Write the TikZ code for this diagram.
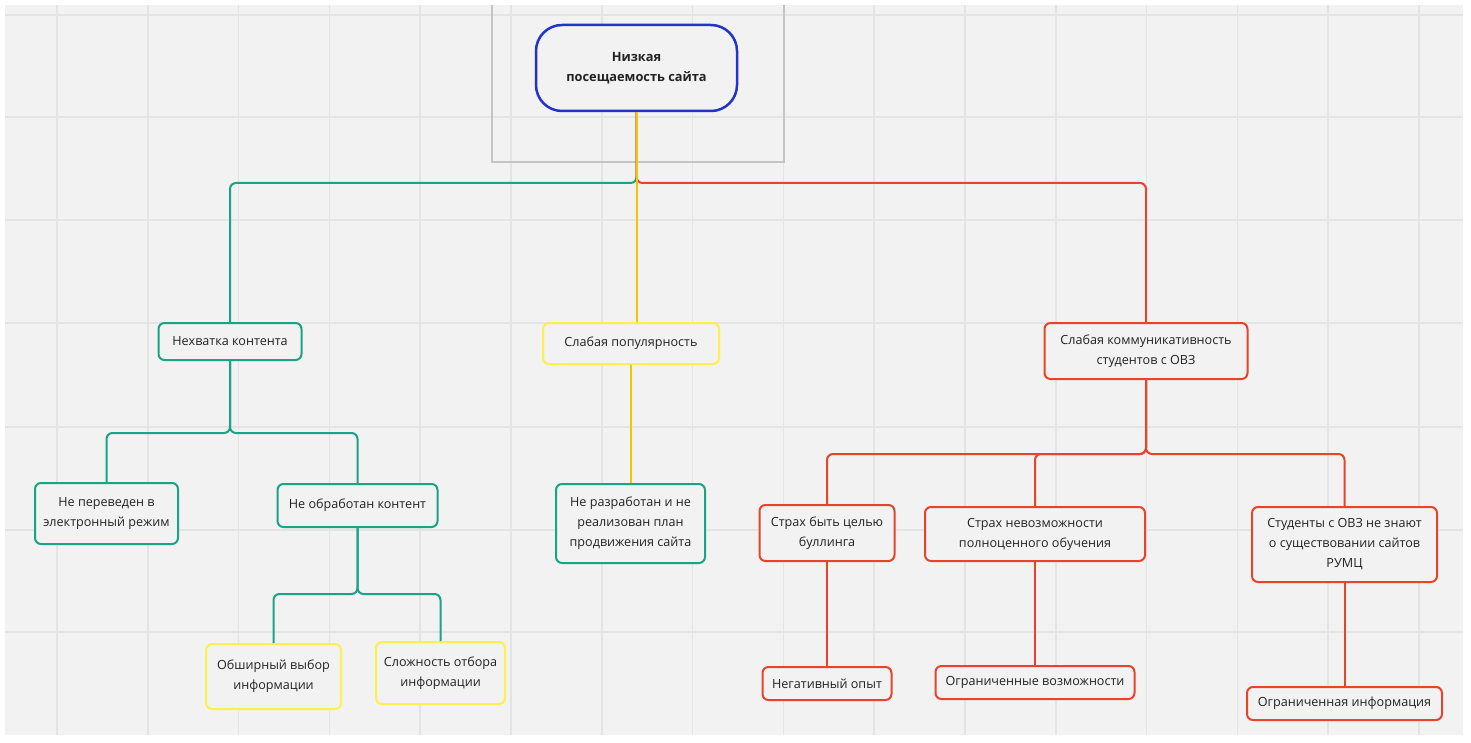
\documentclass[tikz,border=0pt]{standalone}
\usepackage{fontspec}
\setmainfont{Open Sans}
\definecolor{bggray}{HTML}{F2F2F2}
\definecolor{gridgray}{HTML}{E4E4E4}
\definecolor{framegray}{HTML}{C4C4C4}
\definecolor{teal}{HTML}{1AA385}
\definecolor{redc}{HTML}{E8432B}
\definecolor{ylw}{HTML}{FFEF50}
\definecolor{ylwline}{HTML}{F7C400}
\definecolor{bluec}{HTML}{2233CC}
\definecolor{txt}{HTML}{222222}
\tikzset{
  box/.style={draw, line width=2pt, rounded corners=6pt, fill=bggray, align=center,
    inner sep=0pt, text=txt, font=\fontsize{12.6}{20}\selectfont},
  gbox/.style={box, draw=teal},
  rbox/.style={box, draw=redc},
  ybox/.style={box, draw=ylw},
  rootbox/.style={draw=bluec, line width=2.5pt, rounded corners=26pt, fill=bggray, align=center,
    inner sep=0pt, text=txt, font=\fontsize{12.8}{20}\selectfont\bfseries},
  conn/.style={line width=2pt, rounded corners=6pt},
}
\begin{document}
\begin{tikzpicture}[x=1pt,y=-1pt]
\useasboundingbox (0,0) rectangle (1471,743);
\fill[white] (0,0) rectangle (1471,743);
\fill[bggray] (5,5) rectangle (1463,735);
% grid
\foreach \i in {0,...,15} {
  \draw[gridgray, line width=1.6pt] ({57+90.8*\i},5) -- ({57+90.8*\i},735);
}
\foreach \j in {15,117,220,323,427,530,632} {
  \draw[gridgray, line width=1.6pt] (5,\j) -- (1463,\j);
}
% frame
\draw[framegray, line width=1.2pt] (492,5) -- (492,162) -- (784,162) -- (784,5);

% nodes
\node[rootbox, minimum width=201pt, minimum height=86pt] (root) at (636.5,68) {Низкая\\посещаемость сайта};

\node[gbox, minimum width=143pt, minimum height=37pt] (n1) at (230,341.5) {Нехватка контента};
\node[gbox, minimum width=143pt, minimum height=61pt] (n11) at (106.5,513.5) {Не переведен в\\электронный режим};
\node[gbox, minimum width=160pt, minimum height=43pt] (n12) at (357.5,505.5) {Не обработан контент};
\node[ybox, minimum width=135pt, minimum height=65pt] (n121) at (273.5,676.5) {Обширный выбор\\информации};
\node[ybox, minimum width=129pt, minimum height=62pt] (n122) at (440.5,673) {Сложность отбора\\информации};

\node[ybox, minimum width=176pt, minimum height=41pt] (n2) at (631,343.5) {Слабая популярность};
\node[gbox, minimum width=149pt, minimum height=79pt] (n21) at (630.5,523.5) {Не разработан и не\\реализован план\\продвижения сайта};

\node[rbox, minimum width=203pt, minimum height=56pt] (n3) at (1146,351) {Слабая коммуникативность\\студентов с ОВЗ};
\node[rbox, minimum width=135pt, minimum height=56pt] (n31) at (827,533) {Страх быть целью\\буллинга};
\node[rbox, minimum width=220pt, minimum height=54pt] (n32) at (1035,534) {Страх невозможности\\полноценного обучения};
\node[rbox, minimum width=185pt, minimum height=75pt] (n33) at (1344.5,544.5) {Студенты с ОВЗ не знают\\о существовании сайтов\\РУМЦ};
\node[rbox, minimum width=129pt, minimum height=33pt] (n311) at (827,683.5) {Негативный опыт};
\node[rbox, minimum width=199pt, minimum height=33pt] (n321) at (1035,682.5) {Ограниченные возможности};
\node[rbox, minimum width=195pt, minimum height=33pt] (n331) at (1344.5,703.5) {Ограниченная информация};

% connectors
\draw[conn, teal] (root.south) -- (root.south |- 0,183) -- (n1.north |- 0,183) -- (n1.north);
\draw[conn, redc] (root.south) -- (root.south |- 0,183) -- (n3.north |- 0,183) -- (n3.north);
\draw[conn, ylwline] (root.south) -- (root.south |- n2.north);

\draw[conn, teal] (n1.south) -- (n1.south |- 0,433) -- (n11.north |- 0,433) -- (n11.north);
\draw[conn, teal] (n1.south) -- (n1.south |- 0,433) -- (n12.north |- 0,433) -- (n12.north);
\draw[conn, teal] (n12.south) -- (n12.south |- 0,594) -- (n121.north |- 0,594) -- (n121.north);
\draw[conn, teal] (n12.south) -- (n12.south |- 0,594) -- (n122.north |- 0,594) -- (n122.north);

\draw[conn, ylwline] (n2.south) -- (n2.south |- n21.north);

\draw[conn, redc] (n3.south) -- (n3.south |- 0,454) -- (n31.north |- 0,454) -- (n31.north);
\draw[conn, redc] (n3.south) -- (n3.south |- 0,454) -- (n32.north |- 0,454) -- (n32.north);
\draw[conn, redc] (n3.south) -- (n3.south |- 0,454) -- (n33.north |- 0,454) -- (n33.north);
\draw[conn, redc] (n31.south) -- (n311.north);
\draw[conn, redc] (n32.south) -- (n321.north);
\draw[conn, redc] (n33.south) -- (n331.north);
\end{tikzpicture}
\end{document}
